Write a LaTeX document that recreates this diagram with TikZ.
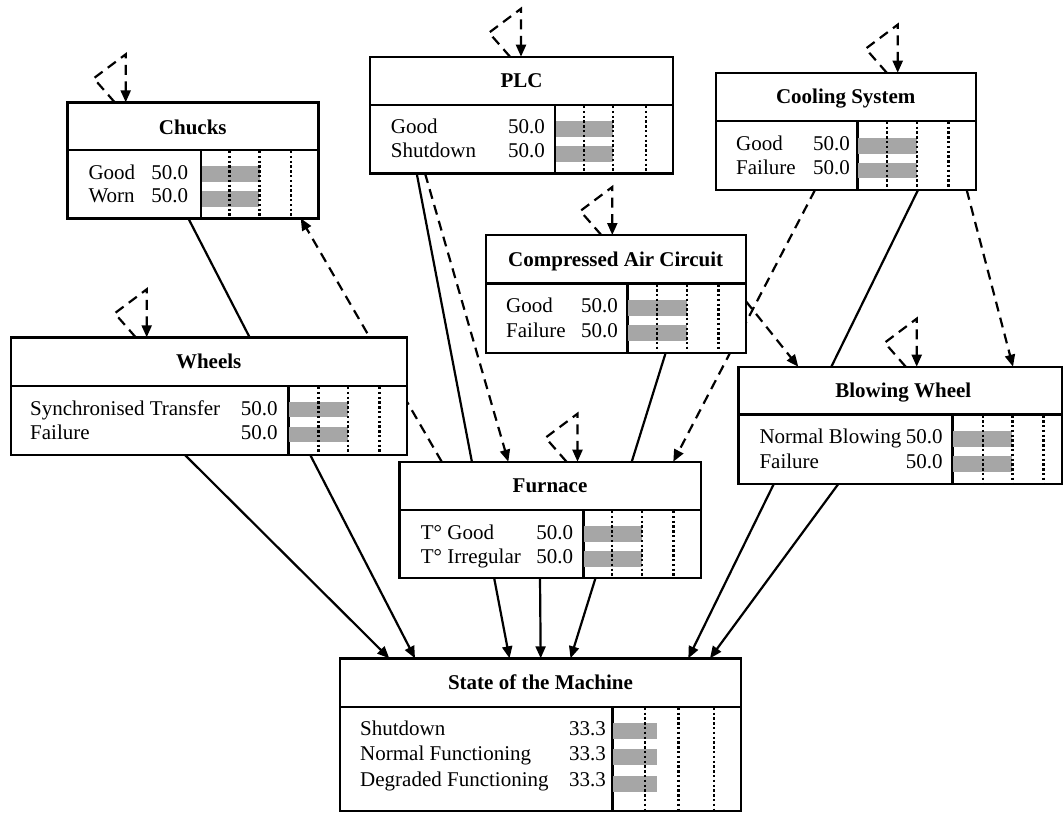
\documentclass[tikz,border=0pt]{standalone}
\usepackage{fontspec}
\setmainfont{Liberation Serif}
\usetikzlibrary{arrows.meta}
\pgfdeclarelayer{bg}
\pgfsetlayers{bg,main}
\definecolor{bargray}{RGB}{166,166,166}
\tikzset{
  bnbox/.style={draw, line width=2.4pt, fill=white, inner sep=0pt, outer sep=0pt, anchor=north west},
  rule/.style={line width=2.4pt},
  dotrule/.style={line width=2.4pt, dash pattern=on 2.4pt off 2.4pt},
  bar/.style={fill=bargray, draw=none},
  link/.style={line width=2.2pt, -{Triangle[length=12pt,width=10pt]}},
  tlink/.style={link, dash pattern=on 10pt off 6.5pt},
  ttl/.style={font=\fontsize{21}{24}\selectfont\bfseries, anchor=base, inner sep=0pt},
  lbl/.style={font=\fontsize{21}{24}\selectfont, anchor=base west, inner sep=0pt},
  val/.style={font=\fontsize{21}{24}\selectfont, anchor=base east, inner sep=0pt},
}
% #1 name, #2 left, #3 top, #4 right, #5 title-div y, #6 bottom, #7 table-div x
\newcommand\bnnode[7]{%
  \node[bnbox, minimum width={(#4-#2)*1pt}, minimum height={(#6-#3)*1pt}] (#1) at (#2,#3) {};
  \draw[rule] (#2,#5) -- (#4,#5);
  \draw[rule] (#7,#5) -- (#7,#6);
}
\newcommand\dotcols[3]{% #1 list, #2 top, #3 bottom
  \foreach \xx in {#1} {\draw[dotrule] (\xx,#2) -- (\xx,#3);}
}
\newcommand\selfloop[2]{% #1 node, #2 xshift
  \draw[tlink] ([xshift=#2pt-11pt]#1.north west) -- ++(-21,-24) -- ++(32,-24) -- ([xshift=#2pt]#1.north west);
}
\begin{document}
\begin{tikzpicture}[x=1pt,y=-1pt]
\useasboundingbox (0,0) rectangle (1064,812);

% ---------- Chucks
\bnnode{chucks}{67.3}{102.3}{318.3}{150}{218.3}{200.7}
\fill[bar] (201.7,166) rectangle (260,181.7);
\fill[bar] (201.7,191) rectangle (259.3,206.7);
\dotcols{229.3,259.3,291}{151}{218.3}
\node[ttl] at (192.8,134) {Chucks};
\node[lbl] at (88.3,179) {Good};   \node[val] at (188.3,179) {50.0};
\node[lbl] at (88.3,202.7) {Worn}; \node[val] at (188.3,202.7) {50.0};

% ---------- PLC
\bnnode{plc}{370}{56.7}{673}{105}{173.3}{555}
\fill[bar] (556,120.7) rectangle (613,136.7);
\fill[bar] (556,146) rectangle (613,161.7);
\dotcols{584,613,645.7}{106}{173.3}
\node[ttl] at (521.5,87.9) {PLC};
\node[lbl] at (390.7,133) {Good};     \node[val] at (545,133) {50.0};
\node[lbl] at (390.7,157.5) {Shutdown}; \node[val] at (545,157.5) {50.0};

% ---------- Cooling System
\bnnode{cooling}{715.7}{72.7}{975.7}{120.7}{190}{857.3}
\fill[bar] (858.3,138.3) rectangle (916.7,154);
\fill[bar] (858.3,162.7) rectangle (916.7,177.7);
\dotcols{886.7,916.7,948.3}{121.7}{190}
\node[ttl] at (845.7,103.7) {Cooling System};
\node[lbl] at (736,150) {Good};      \node[val] at (850,150) {50.0};
\node[lbl] at (736,174.5) {Failure}; \node[val] at (850,174.5) {50.0};

% ---------- Compressed Air Circuit
\bnnode{compressed}{485.7}{235}{745.7}{283.3}{352.7}{627.3}
\fill[bar] (628.3,300) rectangle (686.7,316);
\fill[bar] (628.3,325) rectangle (686.7,340.7);
\dotcols{656.7,686.7,718.3}{284.3}{352.7}
\node[ttl] at (615.7,266.2) {Compressed Air Circuit};
\node[lbl] at (506,312.5) {Good};    \node[val] at (618,312.5) {50.0};
\node[lbl] at (506,337) {Failure};   \node[val] at (618,337) {50.0};

% ---------- Wheels
\bnnode{wheels}{10.7}{337.3}{406.7}{386}{455}{288.3}
\fill[bar] (289.3,402) rectangle (347.7,417.3);
\fill[bar] (289.3,427.3) rectangle (347.7,442.3);
\dotcols{318.3,347.7,379.3}{387}{455}
\node[ttl] at (208.7,368.7) {Wheels};
\node[lbl] at (30,415) {Synchronised Transfer}; \node[val] at (277.7,415) {50.0};
\node[lbl] at (30,439.5) {Failure};              \node[val] at (277.7,439.5) {50.0};

% ---------- Blowing Wheel
\bnnode{blowing}{738.3}{366.7}{1062}{414.3}{484}{952.3}
\fill[bar] (953.3,431) rectangle (1012.3,446.7);
\fill[bar] (953.3,455.7) rectangle (1012.3,471.7);
\dotcols{982.7,1012.3,1043.3}{415.3}{484}
\node[ttl] at (903.3,397.5) {Blowing Wheel};
\node[lbl] at (759.3,443.5) {Normal Blowing}; \node[val] at (942.7,443.5) {50.0};
\node[lbl] at (759.3,468) {Failure};          \node[val] at (942.7,468) {50.0};

% ---------- Furnace
\bnnode{furnace}{399.3}{461.7}{700.7}{510}{577.7}{583.3}
\fill[bar] (584.3,526) rectangle (641.7,541.7);
\fill[bar] (584.3,550.7) rectangle (641.7,566.7);
\dotcols{611.7,641.7,673.3}{511}{577.7}
\node[ttl] at (550,492.9) {Furnace};
\node[lbl] at (420.7,539) {T° Good};      \node[val] at (573.3,539) {50.0};
\node[lbl] at (420.7,563.5) {T° Irregular}; \node[val] at (573.3,563.5) {50.0};

% ---------- State of the Machine
\bnnode{state}{340}{658.3}{741}{706.7}{810.7}{612.3}
\fill[bar] (613.3,722.7) rectangle (656.7,739);
\fill[bar] (613.3,749) rectangle (656.7,765);
\fill[bar] (613.3,775.7) rectangle (656.7,792.3);
\dotcols{645,678.3,714}{707.7}{810.7}
\node[ttl] at (540.5,689.5) {State of the Machine};
\node[lbl] at (360,735) {Shutdown};             \node[val] at (606,735) {33.3};
\node[lbl] at (360,760.5) {Normal Functioning};  \node[val] at (606,760.5) {33.3};
\node[lbl] at (360,786) {Degraded Functioning};  \node[val] at (606,786) {33.3};

% ---------- connectors (behind the boxes)
\begin{pgfonlayer}{bg}
  % causal links into State of the Machine
  \draw[link] ([xshift=174.3pt]wheels.south west) -- ([xshift=49.3pt]state.north west);
  \draw[link] ([xshift=121pt]chucks.south west) -- ([xshift=75pt]state.north west);
  \draw[link] ([xshift=46.7pt]plc.south west) -- ([xshift=169.5pt]state.north west);
  \draw[link] ([xshift=140.7pt]furnace.south west) -- ([xshift=200.7pt]state.north west);
  \draw[link] ([xshift=180pt]compressed.south west) -- ([xshift=230.5pt]state.north west);
  \draw[link] ([xshift=202.3pt]cooling.south west) -- ([xshift=348.3pt]state.north west);
  \draw[link] ([xshift=100pt]blowing.south west) -- ([xshift=370pt]state.north west);
  % temporal (dashed) links
  \draw[tlink] ([xshift=42.4pt]furnace.north west) -- ([xshift=233.4pt]chucks.south west);
  \draw[tlink] ([xshift=55pt]plc.south west) -- ([xshift=109pt]furnace.north west);
  \draw[tlink] ([xshift=99.3pt]cooling.south west) -- ([xshift=274pt]furnace.north west);
  \draw[tlink] ([yshift=-66pt]compressed.north east) -- ([xshift=60pt]blowing.north west);
  \draw[tlink] ([xshift=251pt]cooling.south west) -- ([xshift=274.7pt]blowing.north west);
  % self loops
  \selfloop{chucks}{58.4}
  \selfloop{plc}{151}
  \selfloop{cooling}{182}
  \selfloop{compressed}{126.6}
  \selfloop{wheels}{136}
  \selfloop{blowing}{178.4}
  \selfloop{furnace}{178.2}
\end{pgfonlayer}
\end{tikzpicture}
\end{document}
